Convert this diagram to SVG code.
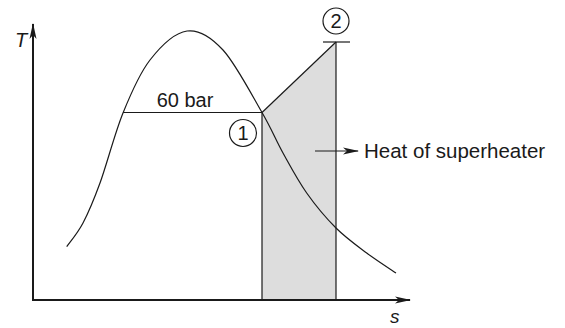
<svg xmlns="http://www.w3.org/2000/svg" width="565" height="328" viewBox="0 0 565 328">
  <style>
    .axis { stroke: #1a1a1a; stroke-width: 2; fill: none; }
    .thin { stroke: #1a1a1a; stroke-width: 1.2; fill: none; }
    .lbl { font-family: "Liberation Sans", Arial, sans-serif; fill: #1a1a1a; }
    .ital { font-style: italic; }
  </style>
  <defs>
    <marker id="ah" viewBox="0 0 16 10" refX="15" refY="5" markerWidth="16" markerHeight="10" markerUnits="userSpaceOnUse" orient="auto">
      <path d="M0,1.5 L16,5 L0,8.5 L4,5 Z" fill="#1a1a1a"/>
    </marker>
  </defs>
  <rect width="565" height="328" fill="#ffffff"/>

  <g id="superheat-area">
    <polygon points="262,112.5 336,42 336,300 262,300" fill="#dddddd" stroke="none"/>
    <line class="thin" x1="262" y1="112.5" x2="262" y2="300"/>
    <line class="thin" x1="336" y1="42" x2="336" y2="300"/>
    <line class="thin" x1="262" y1="112.5" x2="336" y2="42"/>
    <line class="thin" x1="323" y1="42" x2="350" y2="42"/>
  </g>

  <g id="dome">
    <path class="thin" d="M66.7,246.7 C69.4,242.8 77.45,233.6 83,223 C88.55,212.4 93.3,201.3 100,183 C106.7,164.7 114.7,133.5 123,113 C131.3,92.5 139.3,73.7 150,60 C160.7,46.3 174.8,32.7 187,31 C199.2,29.3 210.5,36.4 223,50 C235.5,63.6 252,95.3 262,112.5 C272,129.7 275.55,139.6 283,153 C290.45,166.4 297.9,180.5 306.7,193 C315.5,205.5 326,218 336,228 C346,238 356.7,245.5 366.7,253 C376.7,260.5 391.1,269.7 396,273"/>
    <line class="thin" x1="123" y1="112.5" x2="262" y2="112.5"/>
    <text class="lbl" x="185" y="106.5" font-size="20" text-anchor="middle">60 bar</text>
  </g>

  <g id="axes">
    <line class="axis" x1="33" y1="301" x2="33" y2="24" marker-end="url(#ah)"/>
    <line class="axis" x1="32" y1="300" x2="410" y2="300" marker-end="url(#ah)"/>
    <text class="lbl ital" x="15" y="47" font-size="20">T</text>
    <text class="lbl ital" x="390" y="323" font-size="19">s</text>
  </g>

  <g id="state-1">
    <circle class="thin" cx="243" cy="133" r="13.5"/>
    <text class="lbl" x="243" y="140" font-size="20" text-anchor="middle">1</text>
  </g>

  <g id="state-2">
    <circle class="thin" cx="336" cy="21" r="13"/>
    <text class="lbl" x="336" y="28" font-size="20" text-anchor="middle">2</text>
  </g>

  <g id="connectors">
    <line class="thin" x1="315" y1="151" x2="358" y2="151" stroke-width="1.6" marker-end="url(#ah)"/>
  </g>

  <g id="heat-label">
    <text class="lbl" x="364" y="157.5" font-size="20.5">Heat of superheater</text>
  </g>
</svg>
